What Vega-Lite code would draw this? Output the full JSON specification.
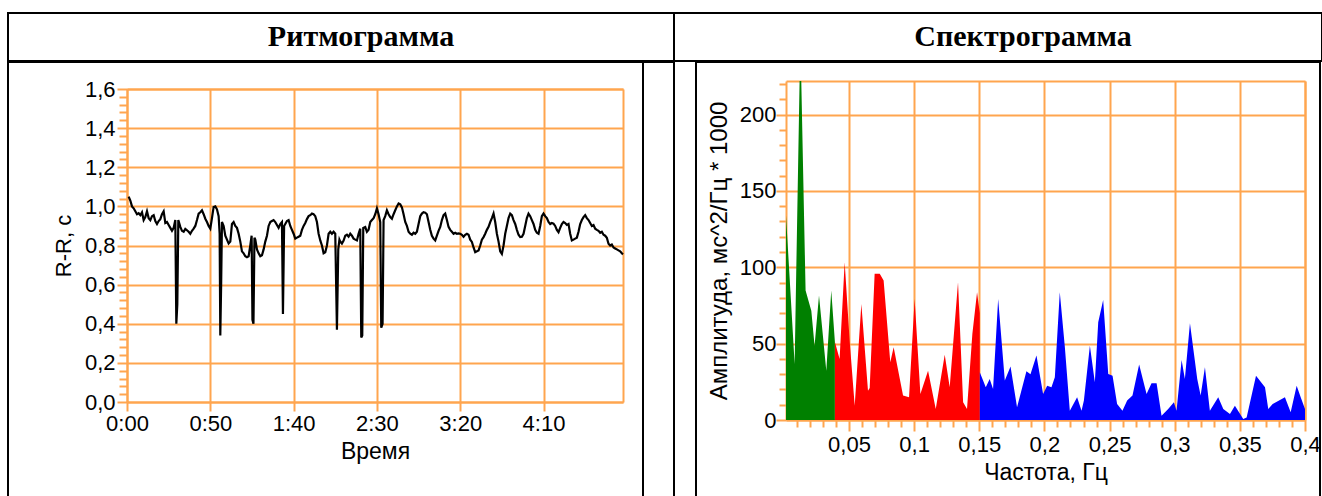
{
"$schema": "https://vega.github.io/schema/vega-lite/v6.json",
"padding": {"left": 7, "top": 12, "right": 0, "bottom": 0},
"spacing": -2,
"datasets": {
"rr": [
{"t":1,"v":1.05},{"t":2,"v":1.03},{"t":3,"v":1.0},{"t":4,"v":0.99},{"t":5,"v":0.975},{"t":6,"v":0.96},{"t":7,"v":0.965},{"t":8,"v":0.955},{"t":9,"v":0.97},{"t":10,"v":0.93},
{"t":11,"v":0.945},{"t":12,"v":0.975},{"t":13,"v":0.94},{"t":14,"v":0.93},{"t":15,"v":0.95},{"t":16,"v":0.955},{"t":17,"v":0.925},{"t":18,"v":0.91},{"t":19,"v":0.925},{"t":20,"v":0.935},
{"t":21,"v":0.96},{"t":22,"v":0.975},{"t":23,"v":0.915},{"t":24,"v":0.92},{"t":25,"v":0.905},{"t":26,"v":0.89},{"t":27,"v":0.875},{"t":28,"v":0.89},{"t":29,"v":0.93},{"t":29.6,"v":0.4},
{"t":30.2,"v":0.5},{"t":30.8,"v":0.93},{"t":32,"v":0.895},{"t":33,"v":0.875},{"t":34,"v":0.87},{"t":35,"v":0.885},{"t":36,"v":0.878},{"t":37,"v":0.87},{"t":38,"v":0.86},{"t":39,"v":0.875},
{"t":40,"v":0.886},{"t":41,"v":0.9},{"t":42,"v":0.93},{"t":43,"v":0.963},{"t":44,"v":0.97},{"t":45,"v":0.98},{"t":46,"v":0.96},{"t":47,"v":0.937},{"t":48,"v":0.92},{"t":49,"v":0.9},
{"t":50,"v":0.886},{"t":51,"v":0.94},{"t":52,"v":0.997},{"t":53,"v":1.0},{"t":54,"v":0.985},{"t":55,"v":0.95},{"t":55.6,"v":0.86},{"t":56,"v":0.34},{"t":56.5,"v":0.6},{"t":57,"v":0.92},
{"t":58,"v":0.9},{"t":59,"v":0.85},{"t":60,"v":0.83},{"t":61,"v":0.81},{"t":62,"v":0.82},{"t":63,"v":0.91},{"t":64,"v":0.92},{"t":65,"v":0.9},{"t":66,"v":0.89},{"t":67,"v":0.86},
{"t":68,"v":0.82},{"t":69,"v":0.77},{"t":70,"v":0.76},{"t":71,"v":0.745},{"t":72,"v":0.74},{"t":73,"v":0.745},{"t":74,"v":0.8},{"t":74.8,"v":0.85},{"t":75.3,"v":0.42},{"t":75.9,"v":0.4},
{"t":76.5,"v":0.84},{"t":77,"v":0.83},{"t":78,"v":0.78},{"t":79,"v":0.76},{"t":80,"v":0.745},{"t":81,"v":0.75},{"t":82,"v":0.78},{"t":83,"v":0.82},{"t":84,"v":0.85},{"t":85,"v":0.9},
{"t":86,"v":0.92},{"t":87,"v":0.925},{"t":88,"v":0.93},{"t":89,"v":0.92},{"t":90,"v":0.905},{"t":91,"v":0.89},{"t":92,"v":0.91},{"t":93,"v":0.92},{"t":93.6,"v":0.45},{"t":94.3,"v":0.9},
{"t":95,"v":0.91},{"t":96,"v":0.925},{"t":97,"v":0.93},{"t":98,"v":0.9},{"t":99,"v":0.88},{"t":100,"v":0.86},{"t":101,"v":0.835},{"t":102,"v":0.84},{"t":103,"v":0.845},{"t":104,"v":0.85},
{"t":105,"v":0.88},{"t":106,"v":0.9},{"t":107,"v":0.915},{"t":108,"v":0.935},{"t":109,"v":0.95},{"t":110,"v":0.955},{"t":111,"v":0.963},{"t":112,"v":0.96},{"t":113,"v":0.95},{"t":114,"v":0.92},
{"t":115,"v":0.86},{"t":116,"v":0.826},{"t":117,"v":0.8},{"t":118,"v":0.76},{"t":119,"v":0.765},{"t":120,"v":0.8},{"t":121,"v":0.86},{"t":122,"v":0.87},{"t":123,"v":0.86},{"t":124,"v":0.87},
{"t":125,"v":0.86},{"t":126,"v":0.37},{"t":126.8,"v":0.78},{"t":127.5,"v":0.83},{"t":128,"v":0.82},{"t":129,"v":0.81},{"t":130,"v":0.825},{"t":131,"v":0.85},{"t":132,"v":0.855},{"t":133,"v":0.845},
{"t":134,"v":0.86},{"t":135,"v":0.85},{"t":136,"v":0.835},{"t":137,"v":0.83},{"t":138,"v":0.826},{"t":139,"v":0.86},{"t":140,"v":0.886},{"t":140.6,"v":0.33},{"t":141.2,"v":0.34},{"t":141.8,"v":0.89},
{"t":143,"v":0.895},{"t":144,"v":0.87},{"t":145,"v":0.88},{"t":146,"v":0.92},{"t":147,"v":0.93},{"t":148,"v":0.94},{"t":149,"v":0.96},{"t":150,"v":0.99},{"t":151,"v":0.96},{"t":152,"v":0.92},
{"t":152.6,"v":0.38},{"t":153.4,"v":0.4},{"t":154,"v":0.93},{"t":155,"v":0.95},{"t":156,"v":0.98},{"t":157,"v":0.96},{"t":158,"v":0.945},{"t":159,"v":0.937},{"t":160,"v":0.96},{"t":161,"v":0.98},
{"t":162,"v":1.0},{"t":163,"v":1.015},{"t":164,"v":1.01},{"t":165,"v":0.995},{"t":166,"v":0.96},{"t":167,"v":0.92},{"t":168,"v":0.9},{"t":169,"v":0.87},{"t":170,"v":0.86},{"t":171,"v":0.855},
{"t":172,"v":0.865},{"t":173,"v":0.86},{"t":174,"v":0.87},{"t":175,"v":0.91},{"t":176,"v":0.95},{"t":177,"v":0.963},{"t":178,"v":0.97},{"t":179,"v":0.968},{"t":180,"v":0.96},{"t":181,"v":0.92},
{"t":182,"v":0.88},{"t":183,"v":0.85},{"t":184,"v":0.835},{"t":185,"v":0.826},{"t":186,"v":0.85},{"t":187,"v":0.875},{"t":188,"v":0.895},{"t":189,"v":0.93},{"t":190,"v":0.955},{"t":191,"v":0.963},
{"t":192,"v":0.93},{"t":193,"v":0.895},{"t":194,"v":0.88},{"t":195,"v":0.87},{"t":196,"v":0.86},{"t":197,"v":0.865},{"t":198,"v":0.86},{"t":199,"v":0.862},{"t":200,"v":0.86},{"t":201,"v":0.855},
{"t":202,"v":0.845},{"t":203,"v":0.855},{"t":204,"v":0.86},{"t":205,"v":0.855},{"t":206,"v":0.83},{"t":207,"v":0.818},{"t":208,"v":0.79},{"t":209,"v":0.766},{"t":210,"v":0.77},{"t":211,"v":0.775},
{"t":212,"v":0.8},{"t":213,"v":0.83},{"t":214,"v":0.843},{"t":215,"v":0.86},{"t":216,"v":0.88},{"t":217,"v":0.895},{"t":218,"v":0.92},{"t":219,"v":0.94},{"t":220,"v":0.963},{"t":221,"v":0.92},
{"t":222,"v":0.86},{"t":223,"v":0.82},{"t":224,"v":0.77},{"t":225,"v":0.757},{"t":226,"v":0.8},{"t":227,"v":0.86},{"t":228,"v":0.9},{"t":229,"v":0.94},{"t":230,"v":0.963},{"t":231,"v":0.955},
{"t":232,"v":0.93},{"t":233,"v":0.91},{"t":234,"v":0.88},{"t":235,"v":0.855},{"t":236,"v":0.843},{"t":237,"v":0.845},{"t":238,"v":0.86},{"t":239,"v":0.9},{"t":240,"v":0.94},{"t":241,"v":0.963},
{"t":242,"v":0.95},{"t":243,"v":0.93},{"t":244,"v":0.91},{"t":245,"v":0.88},{"t":246,"v":0.865},{"t":247,"v":0.86},{"t":248,"v":0.9},{"t":249,"v":0.95},{"t":250,"v":0.963},{"t":251,"v":0.95},
{"t":252,"v":0.94},{"t":253,"v":0.92},{"t":254,"v":0.91},{"t":255,"v":0.915},{"t":256,"v":0.912},{"t":257,"v":0.9},{"t":258,"v":0.88},{"t":259,"v":0.868},{"t":260,"v":0.89},{"t":261,"v":0.91},
{"t":262,"v":0.92},{"t":263,"v":0.915},{"t":264,"v":0.905},{"t":265,"v":0.91},{"t":266,"v":0.86},{"t":267,"v":0.826},{"t":268,"v":0.83},{"t":269,"v":0.835},{"t":270,"v":0.84},{"t":271,"v":0.87},
{"t":272,"v":0.91},{"t":273,"v":0.93},{"t":274,"v":0.945},{"t":275,"v":0.955},{"t":276,"v":0.94},{"t":277,"v":0.93},{"t":278,"v":0.915},{"t":279,"v":0.9},{"t":280,"v":0.905},{"t":281,"v":0.886},
{"t":282,"v":0.88},{"t":283,"v":0.875},{"t":284,"v":0.865},{"t":285,"v":0.87},{"t":286,"v":0.855},{"t":287,"v":0.85},{"t":288,"v":0.84},{"t":289,"v":0.809},{"t":290,"v":0.8},{"t":291,"v":0.805},
{"t":292,"v":0.79},{"t":293,"v":0.785},{"t":294,"v":0.78},{"t":295,"v":0.775},{"t":296,"v":0.77},{"t":297,"v":0.76},{"t":297.7,"v":0.755}
],
"sp": [
{"band":"VLF","f":0.00167,"a":134},{"band":"VLF","f":0.0083,"a":36.7},{"band":"VLF","f":0.0095,"a":95.7},{"band":"VLF","f":0.0121,"a":222},{"band":"VLF","f":0.0134,"a":222},{"band":"VLF","f":0.0167,"a":84.8},{"band":"VLF","f":0.0211,"a":71.6},{"band":"VLF","f":0.0236,"a":48.7},{"band":"VLF","f":0.027,"a":81.5},{"band":"VLF","f":0.0326,"a":32.3},{"band":"VLF","f":0.0364,"a":84.8},{"band":"VLF","f":0.0392,"a":51},
{"band":"LF","f":0.0392,"a":51},{"band":"LF","f":0.0428,"a":40},{"band":"LF","f":0.0467,"a":103.3},{"band":"LF","f":0.0505,"a":52},{"band":"LF","f":0.0544,"a":9.4},{"band":"LF","f":0.0595,"a":76},{"band":"LF","f":0.0646,"a":19.2},{"band":"LF","f":0.0659,"a":21},{"band":"LF","f":0.0697,"a":95.7},{"band":"LF","f":0.0736,"a":95.7},{"band":"LF","f":0.0766,"a":91.3},{"band":"LF","f":0.0817,"a":37.8},{"band":"LF","f":0.0843,"a":47.6},{"band":"LF","f":0.0915,"a":16},{"band":"LF","f":0.0961,"a":14.9},{"band":"LF","f":0.1004,"a":79.3},{"band":"LF","f":0.1048,"a":17},{"band":"LF","f":0.1107,"a":32.3},{"band":"LF","f":0.1166,"a":7.2},{"band":"LF","f":0.1235,"a":42.8},{"band":"LF","f":0.1273,"a":21.4},{"band":"LF","f":0.1337,"a":90.2},{"band":"LF","f":0.1376,"a":11.6},{"band":"LF","f":0.1406,"a":7.2},{"band":"LF","f":0.1447,"a":56.4},{"band":"LF","f":0.1483,"a":83.7},{"band":"LF","f":0.1504,"a":70},
{"band":"HF","f":0.1504,"a":31.2},{"band":"HF","f":0.155,"a":21.4},{"band":"HF","f":0.158,"a":26.9},{"band":"HF","f":0.1606,"a":20.3},{"band":"HF","f":0.1645,"a":79.3},{"band":"HF","f":0.1696,"a":25.8},{"band":"HF","f":0.174,"a":35},{"band":"HF","f":0.179,"a":8.3},{"band":"HF","f":0.1862,"a":31.9},{"band":"HF","f":0.1893,"a":30},{"band":"HF","f":0.1939,"a":42.2},{"band":"HF","f":0.199,"a":17},{"band":"HF","f":0.2021,"a":22.5},{"band":"HF","f":0.2054,"a":21.4},{"band":"HF","f":0.208,"a":28},{"band":"HF","f":0.2118,"a":83.7},{"band":"HF","f":0.2157,"a":47.6},{"band":"HF","f":0.2195,"a":6.1},{"band":"HF","f":0.2251,"a":14.9},{"band":"HF","f":0.2285,"a":6.1},{"band":"HF","f":0.2303,"a":12.7},{"band":"HF","f":0.2349,"a":48.7},{"band":"HF","f":0.2387,"a":24.7},{"band":"HF","f":0.2413,"a":64},{"band":"HF","f":0.2451,"a":78.6},{"band":"HF","f":0.249,"a":30.1},{"band":"HF","f":0.2523,"a":29},{"band":"HF","f":0.2558,"a":10.5},{"band":"HF","f":0.2599,"a":6.1},{"band":"HF","f":0.2635,"a":12.7},{"band":"HF","f":0.2676,"a":16},{"band":"HF","f":0.2727,"a":36.3},{"band":"HF","f":0.2784,"a":17},{"band":"HF","f":0.2822,"a":24},{"band":"HF","f":0.2861,"a":24},{"band":"HF","f":0.2899,"a":2.8},{"band":"HF","f":0.295,"a":7.2},{"band":"HF","f":0.2994,"a":11.6},{"band":"HF","f":0.3014,"a":6.1},{"band":"HF","f":0.3053,"a":39.3},{"band":"HF","f":0.3078,"a":26.9},{"band":"HF","f":0.3117,"a":63.3},{"band":"HF","f":0.3173,"a":26.9},{"band":"HF","f":0.3199,"a":16},{"band":"HF","f":0.3232,"a":34.5},{"band":"HF","f":0.327,"a":6.1},{"band":"HF","f":0.3334,"a":14.9},{"band":"HF","f":0.3373,"a":7.2},{"band":"HF","f":0.3424,"a":3.9},{"band":"HF","f":0.3462,"a":9.4},{"band":"HF","f":0.3526,"a":0.7},{"band":"HF","f":0.3552,"a":1.7},{"band":"HF","f":0.3624,"a":29},{"band":"HF","f":0.3693,"a":21.4},{"band":"HF","f":0.3718,"a":7.2},{"band":"HF","f":0.3752,"a":10.5},{"band":"HF","f":0.3846,"a":14.9},{"band":"HF","f":0.389,"a":5},{"band":"HF","f":0.3936,"a":22.5},{"band":"HF","f":0.3967,"a":14.9},{"band":"HF","f":0.4,"a":7.2}
]
},
"vconcat": [
{
"hconcat": [
{"width": 666, "height": 48, "data": {"values": [{"title": "Ритмограмма"}]}, "mark": {"type": "text", "font": "Liberation Serif", "fontWeight": "bold", "fontSize": 30, "color": "black", "dx": 20},
 "encoding": {"text": {"field": "title"}, "x": {"field": "title", "type": "nominal", "axis": null}, "y": {"field": "title", "type": "nominal", "axis": null}}},
{"width": 648, "height": 48, "data": {"values": [{"title": "Спектрограмма"}]}, "mark": {"type": "text", "font": "Liberation Serif", "fontWeight": "bold", "fontSize": 30, "color": "black", "dx": 25},
 "encoding": {"text": {"field": "title"}, "x": {"field": "title", "type": "nominal", "axis": null}, "y": {"field": "title", "type": "nominal", "axis": null}}}
],
"spacing": 0, "bounds": "flush"
},
{
"hconcat": [
{
"hconcat": [
{
"width": 635, "height": 440,
"data": {"name": "rr"},
"layer": [
{"mark": {"type": "line", "opacity": 0},
 "encoding": {
  "x": {"field": "t", "type": "quantitative", "scale": {"domain": [0, 297.7], "range": [119, 615], "nice": false, "zero": false},
        "axis": {"orient": "top", "offset": -27, "values": [0, 50, 100, 150, 200, 250], "grid": true, "ticks": false, "labels": false, "domain": true, "title": null}},
  "y": {"field": "v", "type": "quantitative", "scale": {"domain": [0, 1.6], "range": [340, 27], "nice": false},
        "axis": {"orient": "right", "offset": -20, "grid": false, "ticks": false, "labels": false, "domain": true, "title": null}}
 }},
{"mark": {"type": "line", "opacity": 0},
 "encoding": {
  "x": {"field": "t", "type": "quantitative", "axis": null},
  "y": {"field": "v", "type": "quantitative",
        "axis": {"orient": "left", "offset": -119, "values": [0.04,0.08,0.12,0.16,0.24,0.28,0.32,0.36,0.44,0.48,0.52,0.56,0.64,0.68,0.72,0.76,0.84,0.88,0.92,0.96,1.04,1.08,1.12,1.16,1.24,1.28,1.32,1.36,1.44,1.48,1.52,1.56], "grid": false, "labels": false, "domain": false, "tickSize": 8, "title": null}}
 }},
{"mark": {"type": "line", "color": "black", "strokeWidth": 2.2},
 "encoding": {
  "x": {"field": "t", "type": "quantitative",
        "axis": {"orient": "bottom", "offset": -100, "values": [0, 50, 100, 150, 200, 250], "grid": false, "tickSize": 9, "labelPadding": 2, "labelExpr": "floor(datum.value/60) + ':' + (datum.value % 60 < 10 ? '0' : '') + (datum.value % 60)", "title": "Время", "titlePadding": 6, "titleFontSize": 23, "domain": true}},
  "y": {"field": "v", "type": "quantitative",
        "axis": {"orient": "left", "offset": -119, "values": [0, 0.2, 0.4, 0.6, 0.8, 1, 1.2, 1.4, 1.6], "grid": true, "tickSize": 10, "labelPadding": 2, "labelExpr": "replace(format(datum.value, '.1f'), '.', ',')", "title": "R-R, с", "titlePadding": 9, "domain": true}}
 }}
],
"resolve": {"axis": {"x": "independent", "y": "independent"}}
},
{"width": 31, "height": 440, "data": {"values": [{"k": "a"}]}, "mark": {"type": "point", "opacity": 0},
 "encoding": {"x": {"field": "k", "type": "nominal", "axis": null}, "y": {"field": "k", "type": "nominal", "axis": null}}}
],
"spacing": 0, "bounds": "flush"
},
{
"width": 624, "height": 440,
"data": {"name": "sp"},
"layer": [
{"mark": {"type": "line", "opacity": 0},
 "encoding": {
  "x": {"field": "f", "type": "quantitative", "scale": {"domain": [0.00167, 0.4], "range": [90, 609], "nice": false, "zero": false},
        "axis": {"orient": "top", "offset": -19, "values": [0.05, 0.1, 0.15, 0.2, 0.25, 0.3, 0.35, 0.4], "grid": true, "ticks": false, "labels": false, "domain": true, "title": null}},
  "y": {"field": "a", "type": "quantitative", "scale": {"domain": [0, 222], "range": [358, 19], "nice": false},
        "axis": {"orient": "right", "offset": -15, "grid": false, "ticks": false, "labels": false, "domain": true, "title": null}}
 }},
{"mark": {"type": "line", "opacity": 0},
 "encoding": {
  "x": {"field": "f", "type": "quantitative",
        "axis": {"orient": "bottom", "offset": -82, "values": [0.01,0.02,0.03,0.04,0.06,0.07,0.08,0.09,0.11,0.12,0.13,0.14,0.16,0.17,0.18,0.19,0.21,0.22,0.23,0.24,0.26,0.27,0.28,0.29,0.31,0.32,0.33,0.34,0.36,0.37,0.38,0.39], "grid": false, "labels": false, "domain": false, "tickSize": 7, "title": null}},
  "y": {"field": "a", "type": "quantitative",
        "axis": {"orient": "left", "offset": -90, "values": [10,20,30,40,60,70,80,90,110,120,130,140,160,170,180,190,210,220], "grid": false, "labels": false, "domain": false, "tickSize": 7, "title": null}}
 }},
{"mark": {"type": "area", "interpolate": "linear"},
 "encoding": {
  "x": {"field": "f", "type": "quantitative",
        "axis": {"orient": "bottom", "offset": -82, "values": [0.05, 0.1, 0.15, 0.2, 0.25, 0.3, 0.35, 0.4], "grid": false, "tickSize": 11, "labelPadding": 3, "labelExpr": "replace(format(datum.value, '.2~f'), '.', ',')", "title": "Частота, Гц", "titlePadding": 6, "titleFontSize": 23, "domain": true}},
  "y": {"field": "a", "type": "quantitative", "stack": null,
        "axis": {"orient": "left", "offset": -90, "values": [0, 50, 100, 150, 200], "grid": true, "tickSize": 10, "labelPadding": 0, "title": "Амплитуда, мс^2/Гц * 1000", "titleFontSize": 24, "titlePadding": 8, "domain": true}},
  "color": {"field": "band", "type": "nominal", "scale": {"domain": ["VLF", "LF", "HF"], "range": ["#008000", "#ff0000", "#0000ff"]}, "legend": null}
 }}
],
"resolve": {"axis": {"x": "independent", "y": "independent"}}
}
],
"spacing": 20
}
],
"config": {
"view": {"stroke": "black", "strokeWidth": 2},
"axis": {"labelFont": "Liberation Sans", "labelFontSize": 22, "labelColor": "black", "titleFont": "Liberation Sans", "titleFontSize": 22, "titleFontWeight": "normal", "titleColor": "black", "domainColor": "#ffa54f", "domainWidth": 2, "tickColor": "#ffa54f", "tickWidth": 2, "gridColor": "#ffa54f", "gridWidth": 2, "gridOpacity": 1, "labelFlush": false, "labelOverlap": false, "labelBound": false}
}
}
